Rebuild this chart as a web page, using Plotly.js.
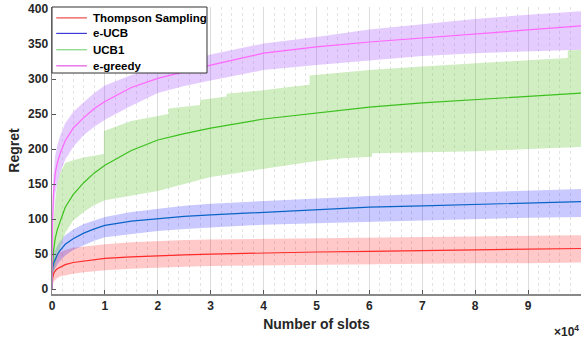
<!DOCTYPE html>
<html>
<head>
<meta charset="utf-8">
<script src="https://cdn.plot.ly/plotly-3.0.1.min.js"></script>
<style>html,body{margin:0;padding:0;background:#fff}#chart{width:582px;height:341px}</style>
</head>
<body>
<div id="chart"></div>
<script>
// slots
const slots = [0, 100, 300, 600, 1000, 1500, 2500, 4000, 6000, 8000, 10000, 15000, 20000, 25000, 30000, 40000, 50000, 60000, 70000, 80000, 90000, 100000];

const tsMean  = [0, 15, 22, 26, 29, 31, 35, 38, 40, 42, 44, 46, 48, 49, 50, 52, 53, 54, 55, 56, 57, 58];
const tsUpper = [0, 30, 40, 45, 50, 53, 56, 59, 61, 62, 64, 67, 69, 70, 71, 72, 73, 74, 75, 76, 76, 77];
const tsLower = [0, 5, 10, 13, 16, 18, 20, 22, 24, 26, 27, 29, 31, 32, 33, 34, 35, 36, 37, 37, 37, 38];

const eucbMean  = [0, 28, 37, 43, 49, 55, 64, 72, 80, 86, 91, 97, 101, 104, 106, 110, 114, 117, 119, 121, 123, 125];
const eucbUpper = [0, 40, 50, 56, 62, 68, 77, 85, 93, 98, 103, 110, 115, 119, 122, 126, 130, 133, 136, 138, 140, 143];
const eucbLower = [0, 18, 25, 30, 35, 40, 48, 56, 63, 69, 74, 79, 83, 86, 88, 92, 94, 96, 99, 101, 102, 103];

const ucbMean = [0, 35, 55, 72, 85, 96, 117, 135, 152, 166, 177, 198, 213, 222, 230, 243, 252, 260, 266, 271, 276, 280];
const ucbUpperSlots = [0, 200, 500, 1000, 1500, 2500, 4000, 6000, 9800, 9800, 15000, 20000, 22000, 22000, 28000, 28000, 33000, 33000, 40000, 44000, 48700, 48700, 55000, 60000, 70000, 80000, 90000, 97500, 97500, 100000];
const ucbUpper      = [0, 80, 120, 150, 165, 180, 184, 188, 193, 226, 240, 247, 250, 258, 263, 270, 275, 279, 284, 288, 292, 305, 309, 313, 318, 323, 327, 330, 341, 342];
const ucbLowerSlots = [0, 200, 500, 1000, 1500, 2500, 4000, 6000, 8000, 10000, 15000, 20000, 25000, 30000, 35000, 40000, 45000, 50000, 55000, 60500, 60500, 70000, 80000, 90000, 100000];
const ucbLower      = [0, 15, 30, 45, 58, 80, 98, 110, 120, 127, 133, 140, 150, 160, 166, 172, 177, 183, 187, 189, 194, 195, 197, 200, 203];

const egMean  = [0, 95, 140, 165, 180, 193, 212, 230, 245, 258, 268, 288, 301, 311, 320, 337, 346, 353, 359, 365, 371, 376];
const egUpper = [0, 120, 165, 190, 205, 218, 237, 253, 267, 280, 291, 306, 316, 326, 335, 351, 360, 371, 379, 386, 392, 397];
const egLower = [0, 70, 110, 135, 150, 165, 185, 203, 220, 232, 242, 262, 280, 290, 298, 313, 320, 327, 333, 337, 340, 342];

const names = ['Thompson Sampling', 'e-UCB', 'UCB1', 'e-greedy'];
const legendColors = ['#ec4a4a', '#3a3ad8', '#7fd47f', '#e455e4'];
const xTickVals = [0, 10000, 20000, 30000, 40000, 50000, 60000, 70000, 80000, 90000];
const xTickText = ['0', '1', '2', '3', '4', '5', '6', '7', '8', '9'];

function band(xu, up, xl, lo, fill) {
  return [
    {x: xu, y: up, mode: 'lines', line: {width: 0}, showlegend: false, hoverinfo: 'skip'},
    {x: xl, y: lo, mode: 'lines', line: {width: 0}, fill: 'tonexty', fillcolor: fill, showlegend: false, hoverinfo: 'skip'}
  ];
}
function line(y, name, color) {
  return {x: slots, y: y, mode: 'lines', name: name, showlegend: false, line: {color: color, width: 1.2}};
}

const traces = [
  ...band(slots, tsUpper, slots, tsLower, 'rgba(255,0,0,0.21)'),
  ...band(slots, eucbUpper, slots, eucbLower, 'rgba(0,0,255,0.21)'),
  ...band(ucbUpperSlots, ucbUpper, ucbLowerSlots, ucbLower, 'rgba(100,200,50,0.30)'),
  ...band(slots, egUpper, slots, egLower, 'rgba(153,51,255,0.25)'),
  line(tsMean, names[0], '#ff2a2a'),
  line(eucbMean, names[1], '#0a64c8'),
  line(ucbMean, names[2], '#3cc01e'),
  line(egMean, names[3], '#ff66ff')
];

const FAMILY = 'Arial, "Liberation Sans", sans-serif';
const bold = {family: FAMILY, size: 12, color: '#262626', weight: 'bold'};

// legend box drawn in paper coordinates (plot area: 529 x 287 px)
const legRowY = [0.962, 0.908, 0.851, 0.795];
const shapes = [{type: 'rect', xref: 'paper', yref: 'paper', x0: 0, x1: 0.293, y0: 0.770, y1: 1.0,
                 fillcolor: '#fff', line: {color: '#333', width: 1}, layer: 'above'}];
const annotations = [];
names.forEach((n, i) => {
  shapes.push({type: 'line', xref: 'paper', yref: 'paper', x0: 0.008, x1: 0.066, y0: legRowY[i], y1: legRowY[i],
               line: {color: legendColors[i], width: 1.2}, layer: 'above'});
  annotations.push({xref: 'paper', yref: 'paper', x: 0.073, y: legRowY[i], xanchor: 'left', yanchor: 'middle',
                    text: n, showarrow: false, font: {family: FAMILY, size: 11.5, color: '#000', weight: 'bold'}});
});
annotations.push({
  xref: 'paper', yref: 'paper', x: 1, y: 0, xanchor: 'right', yanchor: 'top', yshift: -27,
  text: '×10<sup>4</sup>', showarrow: false, font: {family: FAMILY, size: 12, color: '#262626', weight: 'bold'}
});

const layout = {
  width: 582, height: 341,
  margin: {l: 52, r: 1, t: 7, b: 47},
  paper_bgcolor: '#fff', plot_bgcolor: '#fff',
  showlegend: false,
  xaxis: {
    range: [0, 100000], tickvals: xTickVals, ticktext: xTickText,
    ticks: 'inside', ticklen: 4, tickcolor: '#555', showline: true, linecolor: '#888', linewidth: 1.5,
    showgrid: true, gridcolor: '#dcdcdc', gridwidth: 1, zeroline: false,
    minor: {dtick: 2000, tick0: 0, showgrid: true, gridcolor: '#e4e4e4', griddash: 'dot', gridwidth: 1},
    tickfont: bold,
    title: {text: 'Number of slots', font: {family: FAMILY, size: 14, color: '#262626', weight: 'bold'}, standoff: 7}
  },
  yaxis: {
    range: [-7, 403], dtick: 50, tick0: 0,
    ticks: 'inside', ticklen: 4, tickcolor: '#555', showline: true, linecolor: '#888', linewidth: 1.5,
    showgrid: false, zeroline: false,
    tickfont: bold,
    title: {text: 'Regret', font: {family: FAMILY, size: 14, color: '#262626', weight: 'bold'}, standoff: 5}
  },
  shapes: shapes,
  annotations: annotations
};

Plotly.newPlot('chart', traces, layout, {displayModeBar: false, staticPlot: true});
</script>
</body>
</html>
